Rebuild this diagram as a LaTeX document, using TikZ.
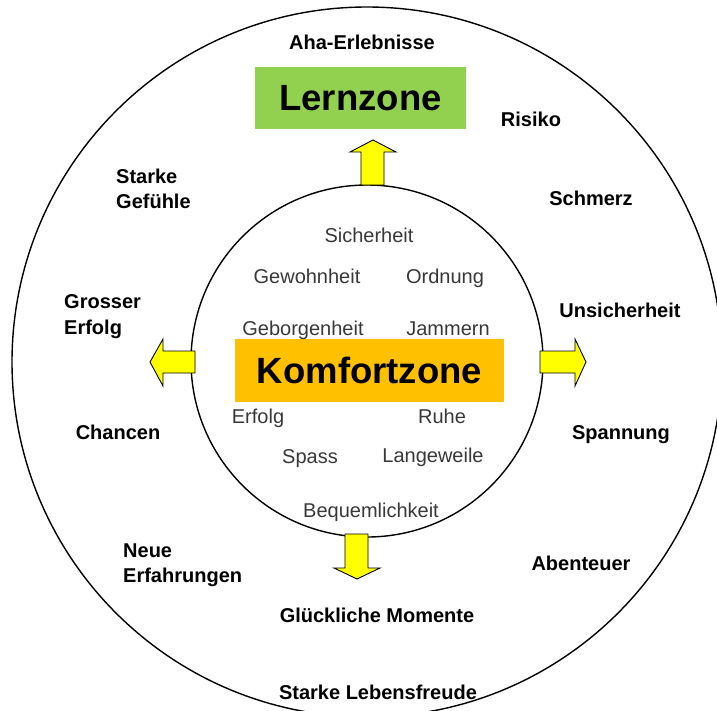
\documentclass[tikz,border=0pt]{standalone}
\usepackage{fontspec}
\setmainfont{Liberation Sans}
\definecolor{lerngreen}{HTML}{92D050}
\definecolor{komforange}{HTML}{FFC000}
\definecolor{arrowyellow}{HTML}{FFFF00}
\begin{document}
\begin{tikzpicture}[x=1pt,y=-1pt,
  outertext/.style={font=\fontsize{20}{24}\selectfont\bfseries, inner sep=0pt},
  innertext/.style={font=\fontsize{20}{24}\selectfont, text=black!78, inner sep=0pt, anchor=base},
  zonebox/.style={font=\fontsize{36.5}{40}\selectfont\bfseries, inner sep=0pt},
  blockarrow/.style={draw=black, fill=arrowyellow, line width=0.9pt, line join=miter}]
\useasboundingbox (0,0) rectangle (717,710);
\clip (0,0) rectangle (717,710);
% circles
\coordinate (c) at (367,362);
\draw[line width=1.4pt] (c) circle[radius=355];
\draw[line width=1.4pt] (367,361) circle[radius=176];
% zone boxes
\node[zonebox, fill=lerngreen, minimum width=211pt, minimum height=62pt] (lern) at (360.5,98) {Lernzone};
\node[zonebox, fill=komforange, minimum width=269pt, minimum height=63pt] (komf) at (369.5,370.5) {Komfortzone};
% block arrows
\draw[blockarrow] (361,185) -- (361,152) -- (350,152) -- (373,140) -- (396,152) -- (384,152) -- (384,185) -- cycle;
\draw[blockarrow] (345,534) -- (345,568) -- (334,568) -- (357,579) -- (380,568) -- (368,568) -- (368,534) -- cycle;
\draw[blockarrow] (195,351) -- (163,351) -- (163,339) -- (150,362) -- (163,386) -- (163,373) -- (195,373) -- cycle;
\draw[blockarrow] (540,351) -- (575,351) -- (575,339) -- (586,362) -- (575,386) -- (575,373) -- (540,373) -- cycle;
% outer labels
\node[outertext, anchor=base] (aha) at (362,49) {Aha-Erlebnisse};
\node[outertext, anchor=base] (risiko) at (531,126) {Risiko};
\node[outertext, anchor=base west] (starkeA) at (116,183) {Starke};
\node[outertext, anchor=base west] (starkeB) at (116,208) {Gefühle};
\node[outertext, anchor=base] (schmerz) at (591,205) {Schmerz};
\node[outertext, anchor=base west] (grosserA) at (64,308) {Grosser};
\node[outertext, anchor=base west] (grosserB) at (64,334) {Erfolg};
\node[outertext, anchor=base] (unsich) at (620,317) {Unsicherheit};
\node[outertext, anchor=base] (chancen) at (118,439) {Chancen};
\node[outertext, anchor=base] (spannung) at (621,439) {Spannung};
\node[outertext, anchor=base west] (neueA) at (123,557) {Neue};
\node[outertext, anchor=base west] (neueB) at (123,582) {Erfahrungen};
\node[outertext, anchor=base] (abenteuer) at (581,570) {Abenteuer};
\node[outertext, anchor=base] (glueck) at (377,622) {Glückliche Momente};
\node[outertext, anchor=base] (lebens) at (378,699) {Starke Lebensfreude};
% inner labels
\node[innertext] (sicher) at (369,242) {Sicherheit};
\node[innertext] (gewohn) at (307,283) {Gewohnheit};
\node[innertext] (ordnung) at (445,283) {Ordnung};
\node[innertext] (geborgen) at (303,335) {Geborgenheit};
\node[innertext] (jammern) at (448,335) {Jammern};
\node[innertext] (erfolg) at (258,423) {Erfolg};
\node[innertext] (ruhe) at (442,423) {Ruhe};
\node[innertext] (spass) at (310,463) {Spass};
\node[innertext] (lange) at (433,462) {Langeweile};
\node[innertext] (bequem) at (371,517) {Bequemlichkeit};
\end{tikzpicture}
\end{document}
